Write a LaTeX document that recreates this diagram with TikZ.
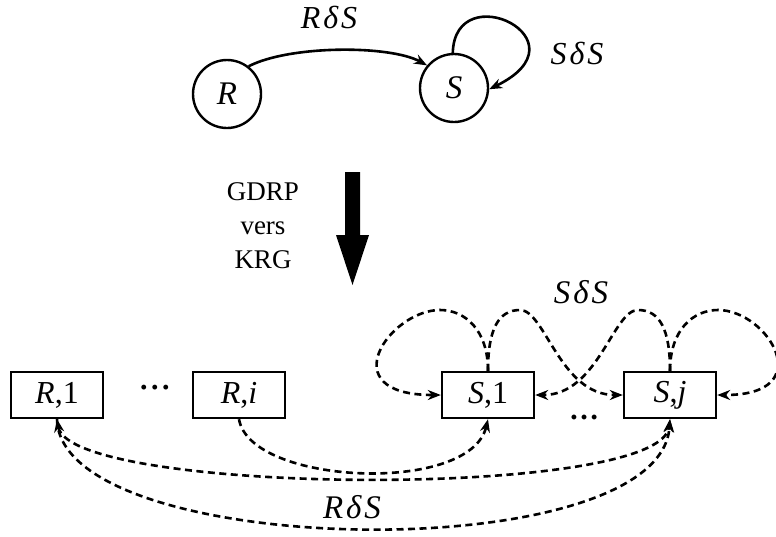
\documentclass[tikz,border=0pt]{standalone}
\usepackage{fontspec}
\setmainfont{Liberation Serif}
\usetikzlibrary{arrows.meta}
\begin{document}
\begin{tikzpicture}[x=1pt,y=-1pt,
  every node/.style={inner sep=0pt},
  state/.style={circle,draw,line width=2.4pt,minimum size=68pt,font=\fontsize{33}{33}\selectfont\itshape},
  stbox/.style={draw,line width=2.4pt,minimum width=92pt,minimum height=46pt,font=\fontsize{32}{32}\selectfont},
  toplbl/.style={font=\fontsize{32}{32}\selectfont\itshape},
  botlbl/.style={font=\fontsize{33}{33}\selectfont\itshape},
  solidarrow/.style={line width=2.6pt,-{Stealth[length=13pt,width=10pt]}},
  dasharrow/.style={line width=2.6pt,dash pattern=on 7pt off 4.5pt,-{Stealth[length=13pt,width=10pt]}},
  dasharrowboth/.style={line width=2.6pt,dash pattern=on 7pt off 4.5pt,{Stealth[length=13pt,width=10pt]}-{Stealth[length=13pt,width=10pt]}},
]
\useasboundingbox (0,0) rectangle (776,536);

% top graph
\node[state] (R) at (227,94) {R};
\node[state] (S) at (454,88) {S};
\node[toplbl] (lRS) at (329,17) {R\kern3ptδ\kern3ptS};
\node[toplbl] (lSS) at (577,53) {S\kern3ptδ\kern3ptS};
\draw[solidarrow] (R.52) .. controls (290,45) and (390,45) .. (S.140);
\draw[solidarrow] (S.92) .. controls (455,-25) and (590,40) .. (S.-2);

% transformation arrow
\fill (345,172) -- (360,172) -- (360,235) -- (369,235) -- (352.5,285) -- (336,235) -- (345,235) -- cycle;
\node[font=\fontsize{27}{34}\selectfont,align=center] (trans) at (263,226) {GDRP\\vers\\KRG};

% bottom graph
\node[stbox] (R1) at (57,395) {\textit{R},1};
\node[stbox] (Ri) at (239,395) {\textit{R},\textit{i}};
\node[stbox] (S1) at (488,395) {\textit{S},1};
\node[stbox] (Sj) at (670,395) {\textit{S},\textit{j}};
\node[font=\fontsize{30}{30}\selectfont\bfseries] (dotsR) at (155,391) {·\kern1pt·\kern1pt·};
\node[font=\fontsize{30}{30}\selectfont\bfseries,anchor=base] (dotsS) at (584,419) {…};
\node[botlbl] (lSSb) at (581,292) {S\kern3ptδ\kern3ptS};
\node[botlbl] (lRSb) at (352,507) {R\kern3ptδ\kern3ptS};

% loops among S nodes
\draw[dasharrow] (S1.north) .. controls (488,330) and (465,310) .. (440,310)
  .. controls (390,310) and (330,395) .. (S1.west);
\draw[dasharrow] (S1.north) .. controls (488,330) and (498,310) .. (520,310)
  .. controls (545,310) and (560,395) .. (Sj.west);
\draw[dasharrow] (Sj.north) .. controls (670,330) and (660,310) .. (638,310)
  .. controls (613,310) and (598,395) .. (S1.east);
\draw[dasharrow] (Sj.north) .. controls (670,330) and (693,310) .. (718,310)
  .. controls (768,310) and (820,395) .. (Sj.east);

% R to S edges
\draw[dasharrow] (Ri.south) .. controls (250,485) and (470,495) .. (S1.south);
\draw[dasharrowboth] (R1.south) .. controls (70,495) and (660,500) .. (Sj.south);
\draw[dasharrow] (R1.south) .. controls (60,560) and (660,570) .. (Sj.south);
\end{tikzpicture}
\end{document}
